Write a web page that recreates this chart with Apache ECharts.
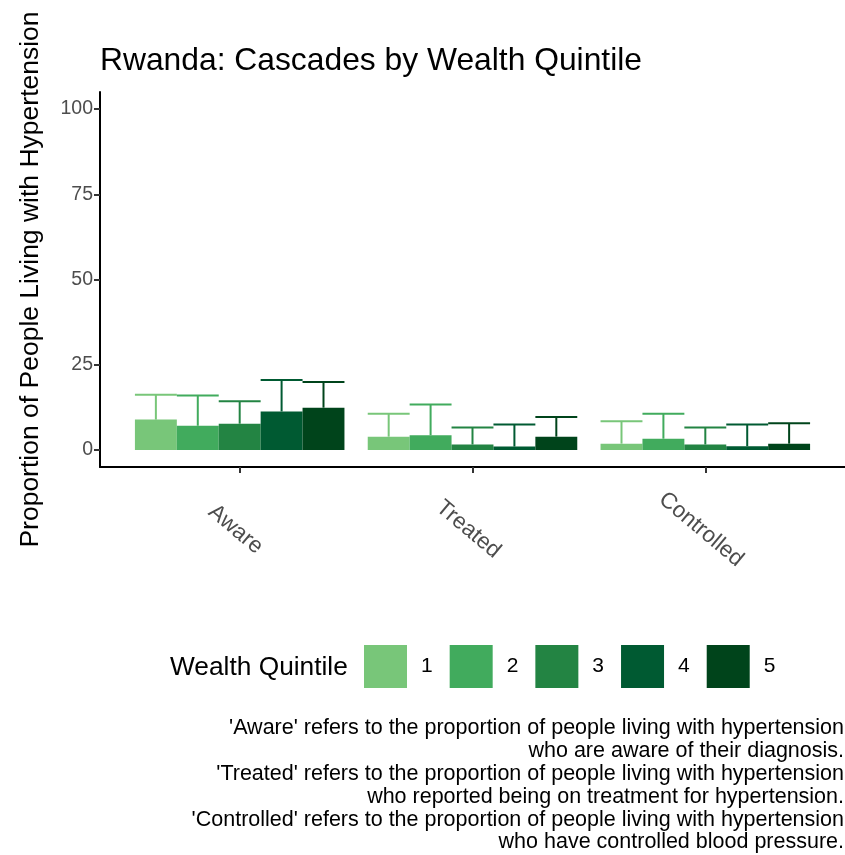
<!DOCTYPE html>
<html>
<head>
<meta charset="utf-8">
<script src="https://cdn.jsdelivr.net/npm/echarts@6/dist/echarts.min.js"></script>
<style>html,body{margin:0;padding:0;background:#fff;}#chart{width:845px;height:855px;}</style>
</head>
<body>
<div id="chart"></div>
<script>
const categories = ['Aware', 'Treated', 'Controlled'];
const quintiles = ['1', '2', '3', '4', '5'];
const q1Values = [8.9, 3.9, 1.85];
const q2Values = [7.1, 4.3, 3.3];
const q3Values = [7.7, 1.6, 1.6];
const q4Values = [11.3, 1.0, 1.1];
const q5Values = [12.4, 3.9, 1.85];
const q1Upper = [16.2, 10.6, 8.4];
const q2Upper = [16.0, 13.3, 10.6];
const q3Upper = [14.3, 6.6, 6.6];
const q4Upper = [20.5, 7.5, 7.5];
const q5Upper = [19.9, 9.7, 7.8];
const yTicks = [0, 25, 50, 75, 100];
const colors = ['#78C679', '#41AB5D', '#238443', '#005A32', '#00441B'];

const valuesByQ = [q1Values, q2Values, q3Values, q4Values, q5Values];
const upperByQ = [q1Upper, q2Upper, q3Upper, q4Upper, q5Upper];
const FONT = "'Liberation Sans', Arial, sans-serif";
const dodge = 0.9, nQ = quintiles.length, bw = dodge / nQ;

function makeSeries(k) {
  return {
    name: quintiles[k],
    type: 'custom',
    itemStyle: { color: colors[k] },
    encode: { x: 0, y: 1 },
    data: categories.map((c, i) => [i + 1, valuesByQ[k][i], upperByQ[k][i]]),
    renderItem: function (params, api) {
      const x = api.value(0), v = api.value(1), up = api.value(2);
      const cx = x - dodge / 2 + bw * (k + 0.5);
      const color = api.visual('color');
      const tl = api.coord([cx - bw / 2, v]);
      const br = api.coord([cx + bw / 2, 0]);
      const top = api.coord([cx, up]);
      const mid = api.coord([cx, v]);
      return {
        type: 'group',
        children: [
          { type: 'line', shape: { x1: top[0], y1: top[1], x2: mid[0], y2: mid[1] }, style: { stroke: color, lineWidth: 2 } },
          { type: 'line', shape: { x1: tl[0], y1: top[1], x2: br[0], y2: top[1] }, style: { stroke: color, lineWidth: 2 } },
          { type: 'rect', shape: { x: tl[0], y: tl[1], width: br[0] - tl[0], height: br[1] - tl[1] }, style: { fill: color } }
        ]
      };
    }
  };
}

const chart = echarts.init(document.getElementById('chart'), null, { renderer: 'canvas' });
chart.setOption({
  animation: false,
  backgroundColor: '#ffffff',
  textStyle: { fontFamily: FONT },
  title: [
    { text: 'Rwanda: Cascades by Wealth Quintile', left: 95, top: 40,
      textStyle: { fontFamily: FONT, fontSize: 31.8, fontWeight: 'normal', color: '#000' } },
    { text: 'Wealth Quintile', left: 165, top: 650,
      textStyle: { fontFamily: FONT, fontSize: 26.3, fontWeight: 'normal', color: '#000' } }
  ],
  legend: {
    data: quintiles,
    left: 364, top: 645, padding: 0,
    icon: 'rect',
    itemWidth: 43, itemHeight: 43, itemGap: 17,
    textStyle: { fontFamily: FONT, fontSize: 21, color: '#000', padding: [0, 0, 0, 9] },
    selectedMode: false
  },
  grid: { left: 100, top: 92, width: 749.4, bottom: 388, containLabel: false },
  xAxis: {
    type: 'value', min: 0.4, max: 3.6,
    splitLine: { show: false },
    axisLine: { show: true, onZero: false, lineStyle: { color: '#000', width: 2 } },
    axisTick: { show: true, length: 6, lineStyle: { color: '#333', width: 2 }, customValues: [1, 2, 3] },
    axisLabel: {
      customValues: [1, 2, 3],
      formatter: v => categories[Math.round(v) - 1] || '',
      rotate: -40, align: 'center', verticalAlign: 'middle', margin: 66,
      padding: [14, 11, 0, 0],
      fontFamily: FONT, fontSize: 22.5, color: '#4D4D4D'
    }
  },
  yAxis: {
    type: 'value', min: -5, max: 105,
    name: 'Proportion of People Living with Hypertension',
    nameLocation: 'middle', nameRotate: 90, nameGap: 56,
    nameTextStyle: { fontFamily: FONT, fontSize: 26.5, color: '#000' },
    splitLine: { show: false },
    axisLine: { show: true, onZero: false, lineStyle: { color: '#000', width: 2 } },
    axisTick: { show: true, length: 6, lineStyle: { color: '#333', width: 2 }, customValues: yTicks },
    axisLabel: { customValues: yTicks, margin: 7, fontFamily: FONT, fontSize: 19.5, color: '#4D4D4D' }
  },
  graphic: [{
    type: 'text', right: 1, top: 717,
    style: {
      text: "'Aware' refers to the proportion of people living with hypertension\nwho are aware of their diagnosis.\n'Treated' refers to the proportion of people living with hypertension\nwho reported being on treatment for hypertension.\n'Controlled' refers to the proportion of people living with hypertension\nwho have controlled blood pressure.",
      textAlign: 'right', font: "21.5px 'Liberation Sans', Arial, sans-serif", lineHeight: 22.8, fill: '#000'
    }
  }],
  series: quintiles.map((q, k) => makeSeries(k))
});
</script>
</body>
</html>
